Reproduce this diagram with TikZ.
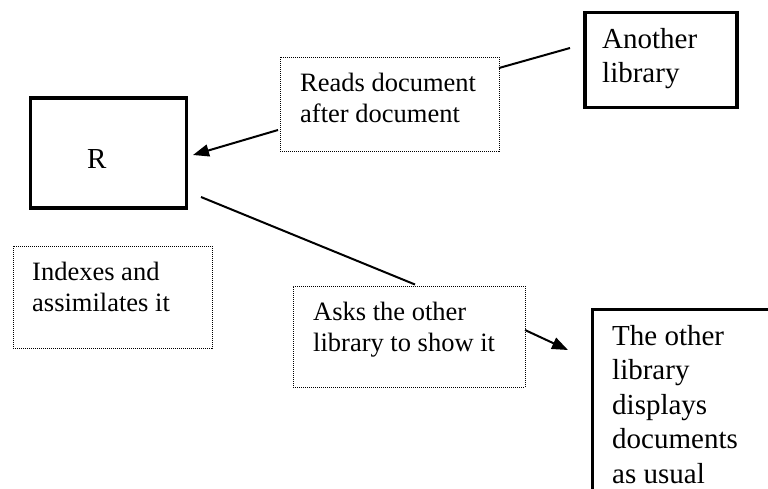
\documentclass[tikz,border=0pt]{standalone}
\usepackage{fontspec}
\setmainfont{Liberation Serif}
\usetikzlibrary{arrows.meta}
\begin{document}
\begin{tikzpicture}[x=1pt,y=-1pt,
  thickbox/.style={draw=black,line width=3.6pt,inner sep=0pt,anchor=north west},
  dotbox/.style={draw=black,line width=1pt,dash pattern=on 1pt off 1pt,inner sep=0pt,anchor=north west},
  bigtext/.style={anchor=base west,inner sep=0pt,font=\fontsize{29}{34.5}\selectfont},
  smalltext/.style={anchor=base west,inner sep=0pt,font=\fontsize{26.5}{31}\selectfont},
  conn/.style={draw=black,line width=2pt},
  arr/.style={conn,-{Triangle[length=16pt,width=12pt]}}]
\useasboundingbox (0,0) rectangle (768,488);
\clip (0,0) rectangle (768,488);
\fill[white] (0,0) rectangle (768,488);

% boxes
\node[thickbox,minimum width=152pt,minimum height=95pt] (another) at (583,10.5) {};
\node[thickbox,minimum width=156pt,minimum height=110pt] (rbox) at (28.7,96) {};
\node[dotbox,minimum width=219pt,minimum height=94pt] (reads) at (279.5,56.5) {};
\node[dotbox,minimum width=199pt,minimum height=102pt] (indexes) at (12.5,245.5) {};
\node[dotbox,minimum width=232pt,minimum height=101pt] (asks) at (292.5,285.5) {};
\node[thickbox,minimum width=220pt,minimum height=220pt] (other) at (590.5,307.5) {};

% texts
\node[bigtext] (anothertxt) at (602,48) {\vtop{\hbox{Another}\hbox{library}}};
\node[bigtext] (rtxt) at (87,168) {R};
\node[smalltext] (readstxt) at (300,91) {\vtop{\hbox{Reads document}\hbox{after document}}};
\node[smalltext] (indexestxt) at (32,280) {\vtop{\hbox{Indexes and}\hbox{assimilates it}}};
\node[smalltext] (askstxt) at (313,320) {\vtop{\hbox{Asks the other}\hbox{library to show it}}};
\node[bigtext] (othertxt) at (612,345) {\vtop{\hbox{The other}\hbox{library}\hbox{displays}\hbox{documents}\hbox{as usual}}};

% connector end points
\coordinate (c1a) at (570,48);
\coordinate (c1b) at (499,68);
\coordinate (c2a) at (278,130);
\coordinate (c2b) at (193,155);
\coordinate (c3a) at (201,197);
\coordinate (c3b) at (415,284.5);
\coordinate (c4a) at (525,330);
\coordinate (c4b) at (568,350);

\draw[conn] (c1a) -- (c1b);
\draw[arr] (c2a) -- (c2b);
\draw[conn] (c3a) -- (c3b);
\draw[arr] (c4a) -- (c4b);
\end{tikzpicture}
\end{document}
